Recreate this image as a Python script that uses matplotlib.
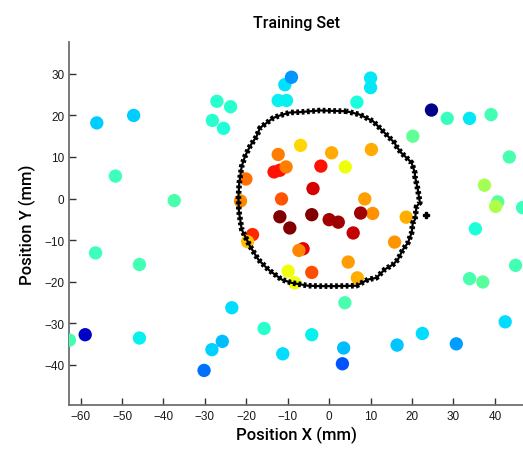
import matplotlib
matplotlib.use("Agg")
import matplotlib.pyplot as plt

# sample positions (mm) and colour value (jet scale 0..1)
pos_x = [-56.1, -47.2, -51.6, -37.4, -27.1, -23.8, -28.2, -25.5, -10.7, -9.1,
         -12.3, -10.3, 10.0, 10.0, 6.7, 24.7, 28.5, 33.9, 39.1, 20.2,
         43.5, 37.5, 40.7, 40.2, 46.7, 35.3, 3.8, 45.0, 33.9, 37.1,
         -4.2, -11.2, 3.5, 3.2, 16.4, 22.5, 30.7, 42.5, -56.4, -45.8,
         -62.7, -58.9, -45.8, -23.5, -15.7, -25.8, -28.3, -30.2,
         -6.9, 0.6, 10.2, -2.0, 3.9, -3.9, 8.6, 10.5, 7.6, -4.2,
         0.0, 2.2, -9.5, -11.9, 5.8, 18.6, 15.8, -12.3, -13.3, -11.9,
         -10.4, -20.1, -21.4, -11.5, -18.5, -19.7, -6.3, -7.3, 4.6, -4.2,
         -9.9, -8.3, 6.8]
pos_y = [18.2, 20.0, 5.4, -0.5, 23.4, 22.1, 18.8, 16.9, 27.4, 29.2,
         23.6, 23.6, 29.0, 26.7, 23.2, 21.3, 19.3, 19.3, 20.2, 15.0,
         10.0, 3.2, -0.8, -1.9, -2.2, -7.3, -25.1, -16.1, -19.3, -20.1,
         -32.8, -37.4, -36.0, -39.8, -35.3, -32.5, -35.0, -29.7, -13.1, -15.9,
         -34.1, -32.8, -33.6, -26.3, -31.3, -34.4, -36.4, -41.4,
         12.8, 11.0, 11.8, 7.8, 7.6, 2.4, -0.1, -3.6, -3.5, -3.9,
         -5.1, -5.7, -7.1, -4.4, -8.3, -4.5, -10.5, 10.6, 6.4, 6.8,
         7.6, 4.7, -0.6, -0.1, -8.7, -10.4, -12.1, -12.5, -15.3, -17.8,
         -17.5, -20.3, -19.1]
value = [0.325, 0.325, 0.425, 0.44, 0.40, 0.40, 0.40, 0.39, 0.345, 0.27,
         0.36, 0.36, 0.355, 0.355, 0.38, 0.01, 0.42, 0.355, 0.43, 0.465,
         0.44, 0.55, 0.46, 0.56, 0.42, 0.385, 0.44, 0.43, 0.44, 0.46,
         0.36, 0.34, 0.31, 0.21, 0.32, 0.34, 0.28, 0.34, 0.425, 0.43,
         0.43, 0.065, 0.36, 0.34, 0.40, 0.31, 0.33, 0.235,
         0.68, 0.73, 0.73, 0.89, 0.64, 0.925, 0.74, 0.757, 0.97, 1.0,
         0.965, 0.97, 0.995, 1.0, 0.94, 0.724, 0.75, 0.775, 0.89, 0.89,
         0.775, 0.79, 0.765, 0.82, 0.87, 0.707, 0.916, 0.767, 0.745, 0.826,
         0.64, 0.64, 0.724]

# classifier boundary
edge_x = [4.2, -2.2, -7.1, -9.5, -11.9, -13.5, -16.7, -17.5, -19.1, -20.3,
          -21.1, -21.7, -21.9, -21.8, -21.1, -19.1, -17.1, -14.7, -11.5, -9.1,
          -5.1, -2.2, 1.4, 6.6, 9.4, 11.4, 13.4, 15.4, 16.6, 17.8,
          19.0, 19.9, 20.2, 20.7, 21.1, 21.9, 21.4, 20.7, 20.7, 19.9,
          18.7, 17.4, 16.2, 15.8, 13.8, 13.4, 10.6, 7.4, 4.2]
edge_y = [21.0, 21.2, 20.8, 20.7, 20.0, 19.4, 17.0, 15.0, 12.6, 10.2,
          7.8, 3.8, 0.5, -3.0, -7.5, -11.5, -14.7, -17.1, -19.5, -20.3,
          -21.0, -21.1, -21.1, -21.0, -19.5, -19.1, -17.1, -15.9, -14.7, -12.3,
          -10.7, -8.3, -5.9, -5.1, -1.9, -1.0, 2.2, 5.4, 6.2, 8.6,
          9.8, 11.0, 12.6, 13.4, 15.4, 15.8, 18.6, 20.2, 21.0]
stray_x = [23.5]
stray_y = [-4.0]

fig = plt.figure(figsize=(5.23, 4.52), dpi=100)
ax = fig.add_axes([0.132, 0.102, 0.868, 0.803])

ax.scatter(pos_x, pos_y, c=value, cmap='jet', vmin=0, vmax=1, s=92,
           linewidths=0, zorder=3)
ax.plot(edge_x, edge_y, color='black', lw=1.6, zorder=4)
ax.plot(edge_x, edge_y, color='black', lw=4.0, linestyle=(0, (0.5, 0.45)),
        zorder=4)
ax.plot(stray_x, stray_y, marker='P', color='black', ms=4.5, ls='none', zorder=4)

ax.set_xlim(-62.8, 46.8)
ax.set_ylim(-49.7, 37.7)
ax.set_xticks(range(-60, 41, 10))
ax.set_yticks(range(-40, 31, 10))

for side in ['top', 'right']:
    ax.spines[side].set_visible(False)
for side in ['left', 'bottom']:
    ax.spines[side].set_color('#6e6e6e')
    ax.spines[side].set_linewidth(1.3)
ax.tick_params(direction='in', length=5, width=1, color='#333333',
               labelsize=8.5, labelcolor='#1a1a1a')
for lab in ax.get_xticklabels() + ax.get_yticklabels():
    lab.set_family(['Liberation Sans', 'DejaVu Sans'])

narrow = ['Roboto', 'DejaVu Sans']
ax.set_title('Training Set', family=narrow, fontsize=11.5, weight='medium', pad=11)
ax.set_xlabel('Position X (mm)', family=narrow, fontsize=12, weight='medium', labelpad=3)
ax.set_ylabel('Position Y (mm)', family=narrow, fontsize=12, weight='medium', labelpad=6)

fig.savefig('out.png', dpi=100)
